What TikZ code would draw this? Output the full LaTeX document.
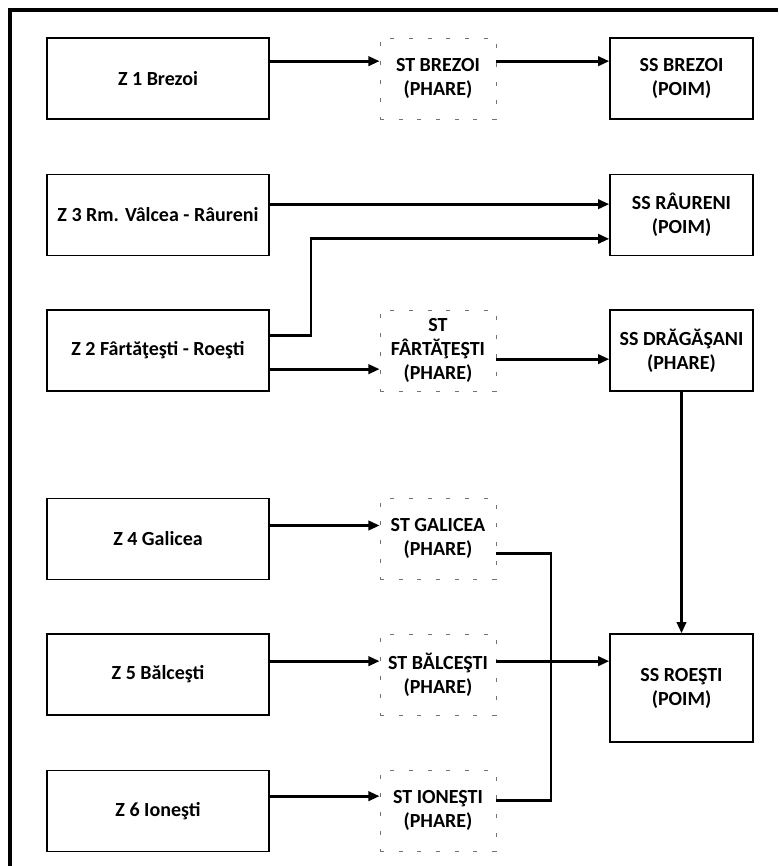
\documentclass[tikz,border=0pt]{standalone}
\usepackage{fontspec}
\setmainfont{Carlito}
\usetikzlibrary{arrows.meta,positioning,calc}

\begin{document}
\begin{tikzpicture}[
      x=0.75pt, y=-0.75pt,
      zonebox/.style={
        rectangle, draw=black, line width=1pt, align=center,
        font=\fontsize{15pt}{18pt}\selectfont\bfseries,
        minimum width=166.5pt, minimum height=60.75pt
      },
      stbox/.style={
        zonebox, draw=black!55, line width=0.5pt, dash pattern=on 3pt off 11pt,
        minimum width=87pt
      },
      ssbox/.style={zonebox, minimum width=107.25pt},
      flowarr/.style={-{Triangle[length=8.5pt,width=7pt]}, draw=black, line width=2.2pt},
      busline/.style={draw=black, line width=2.2pt}
    ]
      \useasboundingbox (0,0) rectangle (778,866);
      \draw[line width=2.4pt] (10,866) -- (10,10) -- (778,10);

      \node[zonebox] (z1) at (158,78.5) {Z 1 Brezoi};
      \node[zonebox, below=40.5pt of z1] (z3) {Z 3 Rm. Vâlcea - Râureni};
      \node[zonebox, below=40pt of z3] (z2) {Z 2 Fârtăţeşti - Roeşti};
      \node[zonebox, below=79.5pt of z2] (z4) {Z 4 Galicea};
      \node[zonebox, below=40pt of z4] (z5) {Z 5 Bălceşti};
      \node[zonebox, below=40.5pt of z5] (z6) {Z 6 Ioneşti};

      \node[stbox, right=82.5pt of z1] (st1) {ST BREZOI\\(PHARE)};
      \node[stbox] (st2) at (st1 |- z2) {ST\\FÂRTĂŢEŞTI\\(PHARE)};
      \node[stbox] (st4) at (st1 |- z4) {ST GALICEA\\(PHARE)};
      \node[stbox] (st5) at (st1 |- z5) {ST BĂLCEŞTI\\(PHARE)};
      \node[stbox] (st6) at (st1 |- z6) {ST IONEŞTI\\(PHARE)};

      \node[ssbox, right=84.75pt of st1] (ss1) {SS BREZOI\\(POIM)};
      \node[ssbox] (ss3) at (ss1 |- z3) {SS RÂURENI\\(POIM)};
      \node[ssbox] (ss2) at (ss1 |- z2) {SS DRĂGĂŞANI\\(PHARE)};
      \node[ssbox, minimum height=81pt, anchor=north] (ss4) at (ss1 |- z5.north) {SS ROEŞTI\\(POIM)};

      \draw[flowarr] ([yshift=13pt]z1.east) -- ([yshift=13pt]st1.west);
      \draw[flowarr] ([yshift=13pt]st1.east) -- ([yshift=13pt]ss1.west);
      \draw[flowarr] ([yshift=8pt]z3.east) -- ([yshift=8pt]ss3.west);
      \draw[flowarr] ([yshift=11.5pt]z2.east) -- ++(31pt,0) |- ([yshift=-18pt]ss3.west);
      \draw[flowarr] ([yshift=-14pt]z2.east) -- ([yshift=-14pt]st2.west);
      \draw[flowarr] ([yshift=-6.5pt]st2.east) -- ([yshift=-6.5pt]ss2.west);
      \draw[flowarr] (ss2.south) -- (ss4.north);
      \draw[flowarr] ([yshift=10pt]z4.east) -- ([yshift=10pt]st4.west);
      \draw[flowarr] ([yshift=10pt]z5.east) -- ([yshift=10pt]st5.west);
      \draw[flowarr] ([yshift=11pt]z6.east) -- ([yshift=11pt]st6.west);
      \draw[busline] ([yshift=-11pt]st4.east) -| ([xshift=41pt,yshift=7.5pt]st6.east) -- ([yshift=7.5pt]st6.east);
      \draw[flowarr] ([yshift=10pt]st5.east) -- ([yshift=10pt]st5.east -| ss4.west);
    \end{tikzpicture}
\end{document}
